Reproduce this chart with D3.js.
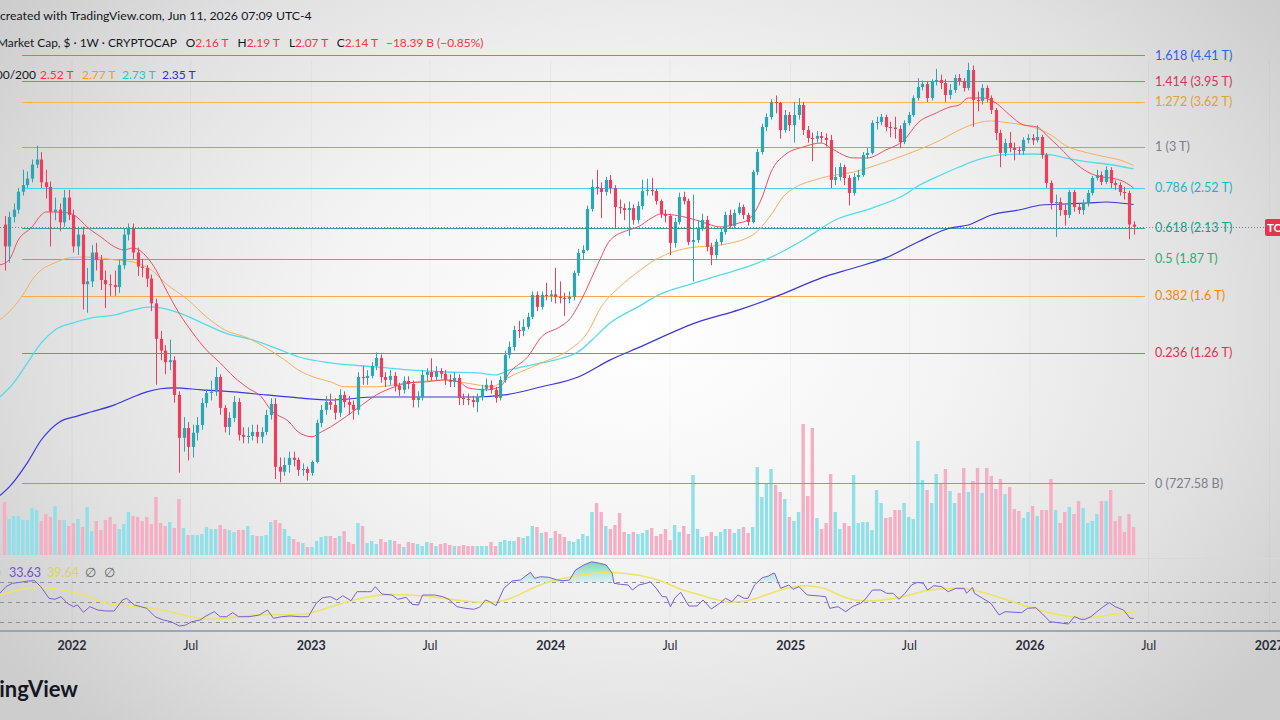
<!DOCTYPE html>
<html><head><meta charset="utf-8">
<script src="https://cdn.jsdelivr.net/npm/d3@7"></script>
<style>html,body{margin:0;padding:0;overflow:hidden;background:#e6e6e6}svg{display:block}</style>
</head><body>
<svg id="c" width="1280" height="720"></svg>
<script>
// ---------------- DATA ----------------
const startWeek = "2021-09-20";           // first visible weekly candle (Monday)
const firstOpen = 2.16;                    // T
const closes = [
1.97,2.23,2.30,2.48,2.55,2.62,2.78,2.84,2.58,2.53,
2.28,2.30,2.18,2.42,2.25,1.97,2.07,1.68,1.70,1.92,
1.86,1.71,1.68,1.675,1.66,1.82,2.07,2.12,1.92,1.81,
1.80,1.72,1.55,1.335,1.27,1.21,1.22,1.054,0.88,0.917,
0.847,0.899,0.929,1.019,1.063,1.068,1.137,0.998,0.921,0.957,
1.023,0.891,0.884,0.887,0.902,0.884,0.902,0.969,1.015,0.779,
0.763,0.785,0.809,0.802,0.769,0.772,0.759,0.795,0.937,0.990,
1.023,1.011,0.978,1.054,1.023,1.011,0.990,1.137,1.132,1.142,
1.191,1.232,1.137,1.123,1.142,1.095,1.077,1.118,1.104,1.032,
1.045,1.147,1.161,1.137,1.166,1.152,1.123,1.114,1.132,1.041,
1.036,1.032,1.023,1.045,1.082,1.100,1.077,1.041,1.123,1.248,
1.290,1.386,1.38,1.404,1.464,1.606,1.527,1.606,1.599,1.61,
1.593,1.586,1.580,1.593,1.762,1.916,1.941,2.305,2.530,2.519,
2.477,2.606,2.519,2.325,2.315,2.296,2.315,2.202,2.335,2.487,
2.498,2.487,2.385,2.258,2.240,1.999,2.183,2.425,2.385,2.007,
2.024,2.129,2.202,1.966,1.900,2.007,2.093,2.249,2.147,2.268,
2.325,2.249,2.183,2.695,2.931,3.257,3.397,3.618,3.603,3.216,
3.426,3.285,3.426,3.573,3.216,3.110,3.10,3.136,3.110,3.084,
2.606,2.639,2.752,2.628,2.467,2.639,2.661,2.895,2.920,3.313,
3.327,3.397,3.257,3.25,3.230,3.058,3.313,3.426,3.680,3.854,
3.904,3.680,3.937,3.970,3.920,3.727,3.806,4.004,3.953,3.838,
4.140,3.649,3.634,3.838,3.680,3.499,3.176,2.920,3.045,2.981,
2.956,2.943,3.084,3.110,3.08,3.123,2.895,2.573,2.365,2.375,
2.296,2.249,2.477,2.325,2.296,2.365,2.467,2.628,2.661,2.584,
2.718,2.573,2.551,2.477,2.467,2.160,2.14];
const highs = [
2.24,2.28,2.36,2.52,2.72,2.70,2.84,3.01,2.93,2.72,
2.59,2.42,2.36,2.50,2.50,2.30,2.14,2.14,1.80,1.98,
2.00,1.90,1.78,1.75,1.78,1.86,2.12,2.17,2.17,1.96,
1.87,1.82,1.75,1.58,1.38,1.30,1.33,1.24,1.07,0.96,
0.94,0.93,0.96,1.04,1.08,1.12,1.185,1.15,1.01,0.98,
1.05,1.04,0.92,0.92,0.93,0.93,0.92,0.99,1.04,1.04,
0.81,0.81,0.83,0.83,0.81,0.79,0.78,0.80,0.95,1.01,
1.05,1.06,1.04,1.08,1.07,1.05,1.03,1.16,1.19,1.17,
1.21,1.26,1.25,1.16,1.17,1.16,1.11,1.14,1.14,1.12,
1.07,1.17,1.18,1.23,1.19,1.18,1.17,1.15,1.16,1.15,
1.06,1.06,1.05,1.06,1.10,1.13,1.12,1.09,1.14,1.27,
1.32,1.41,1.44,1.45,1.49,1.63,1.63,1.63,1.69,1.64,
1.80,1.70,1.62,1.63,1.78,1.95,1.98,2.34,2.61,2.72,
2.58,2.64,2.66,2.55,2.40,2.36,2.38,2.35,2.38,2.61,
2.62,2.63,2.51,2.40,2.30,2.26,2.22,2.47,2.48,2.41,
2.45,2.20,2.26,2.24,2.00,2.03,2.12,2.28,2.30,2.30,
2.37,2.35,2.27,2.72,2.97,3.30,3.45,3.66,3.72,3.62,
3.50,3.47,3.62,3.68,3.62,3.27,3.18,3.20,3.19,3.17,
3.15,2.75,2.80,2.78,2.66,2.68,2.72,2.93,2.98,3.35,
3.40,3.44,3.43,3.33,3.40,3.28,3.35,3.47,3.72,4.00,
3.96,3.95,3.98,4.16,4.06,3.98,3.90,4.06,4.07,4.00,
4.27,4.22,3.78,3.90,3.88,3.72,3.53,3.22,3.10,3.19,
3.05,3.00,3.12,3.16,3.16,3.28,3.15,2.92,2.60,2.45,
2.42,2.35,2.50,2.50,2.36,2.40,2.50,2.65,2.72,2.70,
2.76,2.75,2.60,2.58,2.53,2.49,2.19];
const lows = [
1.78,1.84,2.18,2.26,2.44,2.52,2.58,2.74,2.52,2.41,
1.97,2.20,2.10,2.14,2.20,1.92,1.90,1.51,1.49,1.66,
1.78,1.64,1.52,1.60,1.60,1.62,1.79,2.02,1.87,1.74,
1.73,1.66,1.50,1.10,1.22,1.15,1.17,1.02,0.76,0.83,
0.80,0.81,0.87,0.91,1.00,1.03,1.05,0.97,0.90,0.89,
0.94,0.87,0.86,0.86,0.87,0.86,0.86,0.89,0.95,0.74,
0.73,0.75,0.76,0.78,0.75,0.75,0.735,0.75,0.79,0.92,
0.97,0.99,0.95,0.96,1.00,0.97,0.95,0.97,1.10,1.10,
1.13,1.17,1.11,1.09,1.10,1.07,1.05,1.06,1.08,1.00,
1.00,1.03,1.12,1.12,1.12,1.13,1.10,1.09,1.09,1.01,
1.01,1.01,1.00,0.98,1.03,1.07,1.06,1.02,1.03,1.11,
1.23,1.27,1.34,1.35,1.39,1.45,1.50,1.51,1.57,1.56,
1.55,1.55,1.47,1.55,1.57,1.74,1.86,1.93,2.28,2.45,
2.22,2.44,2.46,2.12,2.26,2.20,2.06,2.16,2.17,2.30,
2.44,2.44,2.35,2.22,2.18,1.90,1.96,2.16,2.35,1.98,
1.70,2.00,2.10,1.93,1.82,1.87,1.98,2.07,2.12,2.12,
2.25,2.21,2.15,2.17,2.66,2.90,3.20,3.36,3.45,3.10,
3.18,3.20,3.05,3.36,3.15,3.05,2.82,3.05,3.05,3.00,
2.52,2.55,2.60,2.55,2.34,2.44,2.60,2.64,2.85,2.90,
3.22,3.28,3.20,3.12,3.10,2.98,3.03,3.28,3.40,3.64,
3.80,3.62,3.64,3.88,3.82,3.62,3.66,3.76,3.88,3.78,
3.80,3.26,3.48,3.58,3.62,3.44,3.08,2.75,2.88,2.93,
2.83,2.90,2.90,3.04,3.02,3.05,2.85,2.52,2.30,2.05,
2.24,2.15,2.22,2.28,2.26,2.25,2.33,2.44,2.60,2.55,
2.56,2.52,2.50,2.44,2.40,2.03,2.07];
// weekly volume (relative units, tens of B)
const volumes = [
53,36,39,39,35,35,47,45,34,41,38,49,35,35,29,32,36,28,48,24,34,25,35,38,31,26,31,43,39,38,
34,38,31,58,32,29,33,27,56,27,20,20,20,21,28,26,26,30,26,25,23,25,25,29,20,19,19,20,33,35,
32,26,19,16,13,12,8,8,14,18,19,19,17,19,24,13,11,32,29,12,14,
11,16,13,15,14,11,8,13,12,11,9,13,12,9,11,12,10,9,9,10,9,9,9,9,9,13,9,13,15,14,14,18,17,19,29,28,22,23,17,24,21,18,14,
13,16,21,19,43,52,43,29,26,30,42,23,21,23,21,22,25,27,19,21,26,15,30,23,29,21,80,26,18,19,
23,19,23,26,26,22,26,28,22,28,88,58,72,86,70,63,56,38,34,43,131,59,127,37,26,32,81,43,26,32,
29,80,32,33,33,25,65,52,37,38,45,45,52,38,36,114,75,65,52,81,72,86,64,52,62,87,63,74,87,62,
87,79,66,76,61,68,46,44,37,43,49,39,45,45,76,45,32,43,48,41,54,47,32,34,41,54,54,65,34,39,
23,41,28];
// moving averages: [week index, value in T]
const ma20 = [[0,1.822],[2,1.861],[4,2.024],[7,2.138],[9,2.249],[10,2.277],[12,2.277],[15,2.268],[17,2.221],[19,2.138],[22,2.050],[25,1.966],[27,1.941],[29,1.957],[32,1.884],[34,1.784],[36,1.654],[39,1.489],[42,1.369],[45,1.274],[48,1.206],[51,1.137],[54,1.086],[57,1.045],[59,0.990],[63,0.941],[65,0.902],[68,0.884],[70,0.902],[72,0.921],[75,0.957],[78,0.998],[82,1.054],[86,1.091],[89,1.109],[93,1.114],[97,1.123],[100,1.114],[102,1.086],[106,1.077],[109,1.091],[111,1.157],[115,1.238],[118,1.346],[122,1.404],[124,1.446],[127,1.593],[130,1.807],[133,2.024],[137,2.111],[139,2.138],[142,2.221],[144,2.258],[150,2.221],[153,2.183],[157,2.138],[161,2.174],[163,2.202],[166,2.415],[168,2.695],[171,2.895],[175,2.994],[179,3.045],[181,2.981],[186,2.859],[189,2.859],[193,2.956],[197,3.084],[200,3.313],[204,3.455],[207,3.543],[209,3.573],[211,3.680],[214,3.680],[217,3.603],[220,3.426],[223,3.285],[226,3.257],[228,3.149],[231,2.981],[234,2.811],[237,2.695],[240,2.639],[242,2.628],[245,2.584],[247,2.52]];
const ma50 = [[0,1.446],[3,1.527],[5,1.606],[7,1.711],[9,1.784],[12,1.838],[15,1.877],[18,1.884],[22,1.877],[25,1.861],[29,1.845],[33,1.784],[36,1.689],[41,1.573],[45,1.464],[49,1.386],[54,1.340],[58,1.285],[62,1.222],[65,1.171],[69,1.132],[72,1.114],[75,1.091],[82,1.091],[89,1.109],[97,1.123],[100,1.114],[104,1.100],[107,1.091],[111,1.137],[118,1.206],[124,1.274],[128,1.369],[131,1.527],[135,1.661],[139,1.769],[142,1.845],[150,1.957],[157,1.982],[164,2.067],[168,2.249],[171,2.446],[179,2.628],[186,2.695],[193,2.811],[196,2.871],[200,2.956],[205,3.084],[209,3.216],[213,3.313],[216,3.341],[220,3.313],[225,3.257],[229,3.149],[232,3.019],[237,2.920],[241,2.871],[244,2.835],[247,2.77]];
const ma100 = [[0,1.045],[3,1.109],[6,1.206],[9,1.312],[12,1.386],[16,1.428],[20,1.458],[25,1.476],[29,1.508],[33,1.527],[35,1.521],[39,1.489],[44,1.428],[49,1.369],[55,1.329],[60,1.285],[65,1.238],[72,1.206],[82,1.186],[89,1.171],[97,1.161],[104,1.157],[108,1.147],[111,1.171],[118,1.206],[126,1.264],[129,1.329],[133,1.428],[139,1.527],[144,1.613],[150,1.675],[157,1.747],[164,1.822],[170,1.918],[175,2.024],[182,2.202],[190,2.315],[197,2.446],[200,2.540],[205,2.661],[209,2.752],[213,2.835],[218,2.895],[225,2.907],[229,2.895],[232,2.859],[237,2.811],[241,2.787],[247,2.73]];
const ma200 = [[0,0.69],[2,0.715],[6,0.793],[9,0.872],[13,0.941],[17,0.965],[20,0.982],[25,1.011],[29,1.045],[32,1.068],[35,1.082],[38,1.086],[44,1.077],[51,1.068],[58,1.054],[65,1.041],[72,1.032],[82,1.045],[89,1.045],[97,1.045],[104,1.045],[110,1.054],[118,1.091],[126,1.137],[133,1.222],[139,1.285],[152,1.432],[161,1.508],[170,1.606],[179,1.726],[186,1.799],[193,1.877],[200,2.007],[207,2.129],[211,2.156],[216,2.249],[222,2.296],[227,2.345],[232,2.355],[237,2.365],[241,2.375],[247,2.35]];
// RSI(14) and its moving average: [week index, value]
const rsi = [[0,58.7],[1.3,65.3],[2.7,68.7],[4.4,69.7],[6.2,71],[7.6,71.3],[8.9,65.3],[10.7,53.7],[12.0,52.7],[13.3,55.3],[14.7,48.7],[16.0,45.3],[16.9,47],[18.2,39.7],[19.6,45.3],[21.3,42],[23.1,41],[24.9,41],[26.7,52],[27.6,53.7],[29.3,47],[30.7,45.3],[32.0,43.7],[33.8,35.3],[35.6,32],[37.3,30.3],[39.1,26],[40.5,27],[41.8,30.3],[43.6,32],[44.9,36],[46.7,40.3],[48.0,35.3],[49.4,35.3],[50.7,39.3],[52.0,35.3],[54.3,35.3],[56.5,37],[58.3,42],[59.6,33.7],[61.4,35.3],[63.2,36],[65.4,35.3],[67.2,35.3],[68.9,48.7],[70.3,54.3],[72.0,55.3],[73.4,52],[74.7,56.3],[76.5,51.3],[77.8,60.3],[80.1,60.3],[80.9,60.3],[81.8,65.3],[83.2,58],[85.4,57],[86.7,52.7],[88.5,54.7],[89.8,47.7],[91.2,47],[92.1,57],[93.4,57],[94.7,57],[96.5,55.3],[97.8,52.7],[99.6,45.3],[101.4,43.7],[103.2,42.7],[104.5,44.7],[105.8,52],[106.7,50.3],[108.1,46.3],[109.8,63.7],[111.6,71],[113.4,72],[115.6,79.7],[116.5,73.7],[117.8,75.3],[119.6,74.7],[121.4,72],[122.7,71.3],[124.1,72],[125.4,82],[127.2,87],[128.9,90.3],[130.7,88.7],[132.1,87],[133.4,78.7],[133.8,68.7],[135.2,67.7],[136.9,67],[137.8,62],[139.2,67],[140.8,68.7],[141.7,70.3],[143.0,63.7],[144.3,55.3],[145.2,55.3],[146.1,45.3],[147.0,53.7],[148.3,59.7],[150.1,46],[151.9,46],[153.2,52],[155.0,43],[156.8,48.7],[158.1,53.7],[159.5,50.3],[160.8,57],[162.1,53.7],[163.0,53.7],[164.4,67],[166.1,74.3],[167.5,76],[168.4,78.7],[168.8,78.7],[170.1,63.7],[171.9,67],[172.8,62.7],[174.1,65.3],[175.9,57],[178.6,56],[179.9,55.3],[180.8,43.7],[182.6,45.3],[184.3,40.3],[185.7,45.3],[187.5,48.7],[188.4,52],[190.1,62],[191.9,62],[193.2,58.7],[194.6,58.7],[195.9,52.7],[197.2,58.7],[198.6,67],[199.9,69.7],[201.2,68.7],[202.1,62],[203.5,66.3],[205.2,65.3],[206.6,60.3],[208.3,63.7],[210.1,63.7],[210.6,58.7],[211.9,64.7],[212.3,58.7],[214.1,53.7],[215.9,48.7],[217.7,37],[219.0,40.3],[222.6,39.3],[223.9,43.7],[225.7,44.3],[227.0,38.7],[228.8,30.3],[230.6,29.3],[232.8,28],[234.1,35.3],[235.5,32.7],[236.4,32.7],[237.7,35.3],[239.0,40.3],[240.4,45.3],[241.7,49.3],[243.0,45.3],[244.8,42],[245.7,37],[246.2,33.7],[247,33.63]];
const rsiMa = [[0,57],[4.4,62.7],[8.9,66],[13.3,62],[17.8,58.7],[22.2,49.3],[26.7,46],[31.1,45.3],[35.6,42],[40.0,37],[44.5,32],[48.9,33.7],[53.4,36],[57.8,37.7],[62.3,37],[66.7,37],[71.1,43.7],[75.6,50.3],[80.0,55.3],[84.5,58],[88.9,57],[93.4,56],[97.8,52.7],[102.3,50.3],[106.7,48.7],[111.2,52],[115.6,63.7],[120.1,71.3],[124.5,75.3],[128.9,78.7],[133.4,80.3],[139.4,77],[143.9,72],[148.3,62],[152.8,57],[157.2,50.3],[161.7,49.3],[166.1,55.3],[170.6,63.7],[175.0,67],[179.5,65.3],[183.9,53.7],[188.4,50.3],[192.8,52],[197.2,55.3],[201.7,62],[206.1,63.7],[210.6,63.7],[215.0,58.7],[219.5,52],[223.9,45.3],[228.4,39.3],[232.8,35.3],[237.2,33.7],[241.7,37],[246.2,40.3],[247,39.64]];
// Fibonacci retracement levels
const fibRatios = ["1.618","1.414","1.272","1","0.786","0.618","0.5","0.382","0.236","0"];
const fibValues = [4.41,3.95,3.62,3.00,2.52,2.13,1.87,1.60,1.26,0.72758];
const fibValueLabels = ["4.41 T","3.95 T","3.62 T","3 T","2.52 T","2.13 T","1.87 T","1.6 T","1.26 T","727.58 B"];
// axis ticks
const tickDates = ["2022-01-01","2022-07-01","2023-01-01","2023-07-01","2024-01-01","2024-07-01","2025-01-01","2025-07-01","2026-01-01","2026-07-01","2027-01-01"];
const tickLabels = ["2022","Jul","2023","Jul","2024","Jul","2025","Jul","2026","Jul","2027"];
// legends
const maLegendValues = ["2.52 T","2.77 T","2.73 T","2.35 T"];
const ohlcLabels = ["O","H","L","C"];
const ohlcValues = ["2.16 T","2.19 T","2.07 T","2.14 T"];
const changeText = "\u221218.39 B (\u22120.85%)";
const rsiLegendValues = ["33.63","39.64"];

// ---------------- STYLE ----------------
const UP = "#2ba6b6", DN = "#ec3f5e";
const VUP = "#8fe0e8", VDN = "#f6aec4";
const fibLine = ["#5f8ff0","#ea5f7f","#f2ba55","#9c9fc2","#4fd0e0","#3e9c98","#4cc38e","#f7a852","#ea5a74","#9295b6"];
const fibText = ["#2c63e6","#d8345a","#e0a232","#7b7e8c","#1fb3c7","#1a9b8c","#36a86c","#e98a0c","#e2314f","#7b7e8c"];
const FONT = "Lato, 'Open Sans', sans-serif";

// ---------------- SCALES ----------------
const DAY = 864e5;
const t0 = new Date(startWeek + "T00:00:00Z");
const N = closes.length;
const weekDate = n => new Date(t0.getTime() + (n - 1) * 7 * DAY);
const x = d3.scaleUtc().domain([weekDate(1), weekDate(N)]).range([4.5, 1133.6]);
const xn = n => x(weekDate(n));
const y = d3.scaleLog().domain([fibValues[9], fibValues[0]]).range([483, 55]);
const yv = d3.scaleLinear().domain([0, 131]).range([555, 424]);
const yr = d3.scaleLinear().domain([30, 70]).range([622, 582]);

const candles = closes.map((c, i) => ({n: i + 1, o: i ? closes[i - 1] : firstOpen, h: highs[i], l: lows[i], c, v: volumes[i]}));

const svg = d3.select("#c");
const defs = svg.append("defs");
const bg = defs.append("radialGradient").attr("id", "bg").attr("gradientUnits", "userSpaceOnUse")
  .attr("cx", 640).attr("cy", 330).attr("r", 780).attr("gradientTransform", "translate(640,330) scale(1,0.72) translate(-640,-330)");
[[0,"#ffffff"],[0.4,"#f4f4f4"],[0.75,"#e1e1e1"],[1,"#cdcdcd"]].forEach(([o,c]) => bg.append("stop").attr("offset", o).attr("stop-color", c));
defs.append("clipPath").attr("id", "mainClip").append("rect").attr("x", 0).attr("y", 0).attr("width", 1280).attr("height", 557);
defs.append("clipPath").attr("id", "obClip").append("rect").attr("x", 0).attr("y", 540).attr("width", 1280).attr("height", yr(70) - 540);
defs.append("clipPath").attr("id", "rsiClip").append("rect").attr("x", 0).attr("y", 560).attr("width", 1280).attr("height", 71);
const ob = defs.append("linearGradient").attr("id", "obFill").attr("x1", 0).attr("y1", 0).attr("x2", 0).attr("y2", 1)
  .attr("gradientUnits", "userSpaceOnUse").attr("y1", 558).attr("y2", yr(70));
ob.append("stop").attr("offset", 0).attr("stop-color", "#3fbf7f").attr("stop-opacity", 0.75);
ob.append("stop").attr("offset", 1).attr("stop-color", "#59d8e0").attr("stop-opacity", 0.15);

svg.append("rect").attr("width", 1280).attr("height", 720).attr("fill", "url(#bg)");

// vertical grid
svg.append("g").selectAll("line").data(tickDates).join("line")
  .attr("x1", d => x(new Date(d + "T00:00:00Z"))).attr("x2", d => x(new Date(d + "T00:00:00Z")))
  .attr("y1", 60).attr("y2", 631).attr("stroke", "#000").attr("stroke-opacity", 0.035);

const main = svg.append("g").attr("clip-path", "url(#mainClip)");

// volume
main.append("g").selectAll("rect").data(candles).join("rect")
  .attr("x", d => xn(d.n) - 1.7).attr("width", 3.4)
  .attr("y", d => yv(d.v)).attr("height", d => yv(0) - yv(d.v))
  .attr("fill", d => d.c >= d.o ? VUP : VDN);

// fib lines
main.append("g").selectAll("line").data(fibValues).join("line")
  .attr("x1", 22).attr("x2", 1145).attr("y1", d => Math.round(y(d)) + 0.5).attr("y2", d => Math.round(y(d)) + 0.5)
  .attr("stroke", (d, i) => fibLine[i]).attr("stroke-width", 1);

// moving averages
const maLine = d3.line().x(d => xn(d[0])).y(d => y(d[1])).curve(d3.curveMonotoneX);
[[ma200,"#3a37d8",1.2],[ma100,"#52dde8",1.3],[ma50,"#f7b060",1],[ma20,"#ef4f66",1]].forEach(([arr, col, w]) => {
  main.append("path").attr("d", maLine(arr)).attr("fill", "none").attr("stroke", col).attr("stroke-width", w);
});

// candles
const cg = main.append("g");
cg.selectAll("line").data(candles).join("line")
  .attr("x1", d => Math.round(xn(d.n)) + 0.5).attr("x2", d => Math.round(xn(d.n)) + 0.5)
  .attr("y1", d => y(d.h)).attr("y2", d => y(d.l))
  .attr("stroke", d => d.c >= d.o ? UP : DN).attr("stroke-width", 1);
cg.selectAll("rect").data(candles).join("rect")
  .attr("x", d => Math.round(xn(d.n)) + 0.5 - 1.6).attr("width", 3.2)
  .attr("y", d => y(Math.max(d.o, d.c))).attr("height", d => Math.max(1, Math.abs(y(d.o) - y(d.c))))
  .attr("fill", d => d.c >= d.o ? UP : DN);

// last price dotted line and badge
const lastY = Math.round(y(closes[N - 1])) + 0.5;
svg.append("line").attr("x1", 0).attr("x2", 1265).attr("y1", lastY).attr("y2", lastY)
  .attr("stroke", "#56707c").attr("stroke-width", 1).attr("stroke-dasharray", "1,2").attr("opacity", 0.8);
svg.append("rect").attr("x", 1265).attr("y", lastY - 8.5).attr("width", 60).attr("height", 17).attr("rx", 2).attr("fill", "#e2354f");
svg.append("text").attr("x", 1267).attr("y", lastY + 4).text("TOTAL")
  .attr("fill", "#fff").attr("font-family", FONT).attr("font-size", 11.5).attr("font-weight", 700);

// fib labels
svg.append("g").selectAll("text").data(fibValues).join("text")
  .attr("x", 1155).attr("y", d => y(d) + 4.5)
  .attr("fill", (d, i) => fibText[i]).attr("font-family", FONT).attr("font-size", 12.6)
  .text((d, i) => `${fibRatios[i]} (${fibValueLabels[i]})`);

// header
const hdr = svg.append("g").attr("font-family", FONT).attr("fill", "#131722");
hdr.append("text").attr("x", 0).attr("y", 20).attr("font-size", 12.3).text("created with TradingView.com, Jun 11, 2026 07:09 UTC-4");
const r2 = hdr.append("text").attr("x", -3).attr("y", 47).attr("font-size", 11.9);
r2.append("tspan").text("Market Cap, $ \u00b7 1W \u00b7 CRYPTOCAP");
ohlcLabels.forEach((l, i) => {
  r2.append("tspan").attr("dx", 9).text(l);
  r2.append("tspan").attr("fill", "#f23645").text(ohlcValues[i]);
});
r2.append("tspan").attr("dx", 8).attr("fill", "#f23645").text(changeText);
hdr.append("text").attr("x", 36).attr("y", 79).attr("font-size", 12).attr("text-anchor", "end").text("MA 20/50/100/200");
const maCols = ["#f23645","#f59a23","#22c3d3","#2a2fd6"];
const maX = [40, 82, 122, 162];
maLegendValues.forEach((v, i) => hdr.append("text").attr("x", maX[i]).attr("y", 79).attr("font-size", 12).attr("fill", maCols[i]).text(v));

// ---------------- RSI PANE ----------------
svg.append("line").attr("x1", 0).attr("x2", 1280).attr("y1", 558.5).attr("y2", 558.5).attr("stroke", "#d6d8df");
const rg = svg.append("g");
[70, 50, 30].forEach(v => rg.append("line").attr("x1", 0).attr("x2", 1280)
  .attr("y1", Math.round(yr(v)) + 0.5).attr("y2", Math.round(yr(v)) + 0.5)
  .attr("stroke", "#8d909b").attr("stroke-dasharray", "4,4").attr("stroke-width", 1));
const rsiLine = d3.line().x(d => xn(d[0])).y(d => yr(d[1]));
const rsiArea = d3.area().x(d => xn(d[0])).y0(yr(70)).y1(d => yr(d[1]));
rg.append("path").attr("d", rsiArea(rsi)).attr("fill", "url(#obFill)").attr("clip-path", "url(#obClip)");
rg.append("path").attr("d", d3.line().x(d => xn(d[0])).y(d => yr(d[1])).curve(d3.curveBasis)(rsiMa))
  .attr("fill", "none").attr("stroke", "#ece46a").attr("stroke-width", 1.6).attr("clip-path", "url(#rsiClip)");
rg.append("path").attr("d", rsiLine(rsi)).attr("fill", "none").attr("stroke", "#7b5fd0").attr("stroke-width", 1).attr("clip-path", "url(#rsiClip)");
const rlg = svg.append("g").attr("font-family", FONT).attr("font-size", 12.5);
rlg.append("text").attr("x", -3).attr("y", 577).attr("fill", "#131722").text(")");
rlg.append("text").attr("x", 9).attr("y", 577).attr("fill", "#6c55c9").text(rsiLegendValues[0]);
rlg.append("text").attr("x", 47).attr("y", 577).attr("fill", "#dcd45a").text(rsiLegendValues[1]);
rlg.append("text").attr("x", 85).attr("y", 577).attr("fill", "#666").text("\u2205");
rlg.append("text").attr("x", 104).attr("y", 577).attr("fill", "#666").text("\u2205");

// axis
svg.append("line").attr("x1", 0).attr("x2", 1280).attr("y1", 631).attr("y2", 631).attr("stroke", "#8a93a8").attr("stroke-width", 1.5);
svg.append("g").selectAll("text").data(tickDates).join("text")
  .attr("x", d => x(new Date(d + "T00:00:00Z"))).attr("y", 650).attr("text-anchor", "middle")
  .attr("font-family", FONT).attr("font-size", 12.5)
  .attr("font-weight", (d, i) => tickLabels[i] === "Jul" ? 400 : 700)
  .attr("fill", "#2a2e39").text((d, i) => tickLabels[i]);

// logo
svg.append("text").attr("x", 78).attr("y", 697).attr("text-anchor", "end").attr("font-family", FONT)
  .attr("font-size", 22).attr("font-weight", 700).attr("fill", "#131722").text("TradingView");
</script>
</body></html>
